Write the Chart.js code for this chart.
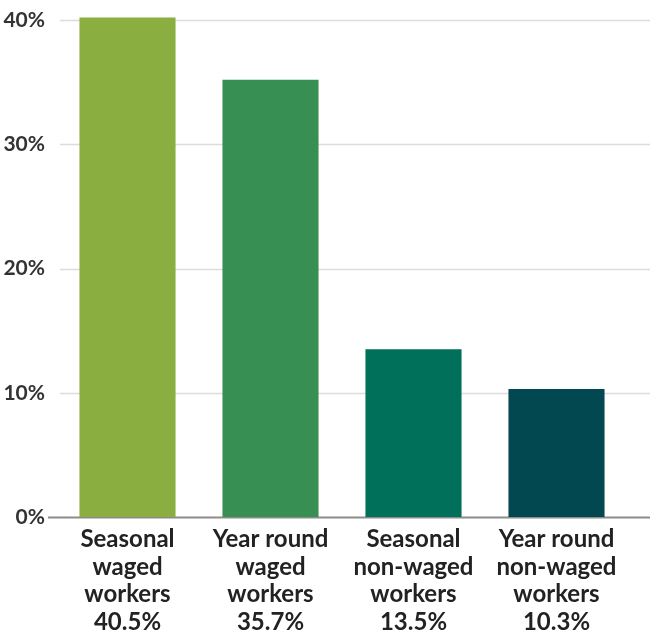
<!DOCTYPE html>
<html>
<head>
<meta charset="utf-8">
<script src="https://cdn.jsdelivr.net/npm/chart.js@4/dist/chart.umd.min.js"></script>
<style>
  html, body { margin: 0; padding: 0; background: #fff; }
  #wrap { width: 650px; height: 631px; }
</style>
</head>
<body>
<div id="wrap"><canvas id="workersChart"></canvas></div>
<script>
// Worker categories, printed shares and bar heights as drawn
const categories = [
  ['Seasonal', 'waged', 'workers'],
  ['Year round', 'waged', 'workers'],
  ['Seasonal', 'non-waged', 'workers'],
  ['Year round', 'non-waged', 'workers']
];
const shareLabels = ['40.5%', '35.7%', '13.5%', '10.3%'];
const barValues = [40.2, 35.2, 13.5, 10.3];
const barColors = ['#8aaf40', '#378f53', '#00705b', '#024850'];
const yTicks = [0, 10, 20, 30, 40];

// Gridlines run from just right of the labels to the canvas edge
const fullGrid = {
  id: 'fullGrid',
  beforeDatasetsDraw(chart) {
    const ctx = chart.ctx;
    const y = chart.scales.y;
    ctx.save();
    yTicks.forEach(function (v) {
      const py = Math.round(y.getPixelForValue(v)) + 0.5;
      ctx.beginPath();
      if (v === 0) {
        ctx.strokeStyle = '#8c8c8c';
        ctx.lineWidth = 2;
        ctx.moveTo(48, py);
      } else {
        ctx.strokeStyle = '#dcdcdc';
        ctx.lineWidth = 1.5;
        ctx.moveTo(60, py);
      }
      ctx.lineTo(chart.width, py);
      ctx.stroke();
    });
    ctx.restore();
  }
};

const ctx = document.getElementById('workersChart').getContext('2d');
new Chart(ctx, {
  type: 'bar',
  data: {
    labels: categories.map(function (c, i) { return c.concat([shareLabels[i]]); }),
    datasets: [{
      data: barValues,
      backgroundColor: barColors,
      borderWidth: 0,
      barPercentage: 0.672,
      categoryPercentage: 1,
      clip: false
    }]
  },
  options: {
    responsive: true,
    maintainAspectRatio: false,
    animation: false,
    layout: { padding: { top: 20, right: 22, left: 2, bottom: 0 } },
    plugins: {
      legend: { display: false },
      tooltip: { enabled: false }
    },
    scales: {
      x: {
        grid: { display: false },
        border: { display: false },
        ticks: {
          color: '#222',
          font: { family: 'Lato', size: 24, weight: 'bold', lineHeight: 1.146 },
          padding: 1,
          maxRotation: 0,
          autoSkip: false
        },
        afterFit: function (scale) { scale.height = 114; }
      },
      y: {
        min: 0,
        max: 40,
        afterBuildTicks: function (scale) {
          scale.ticks = yTicks.map(function (v) { return { value: v }; });
        },
        grid: { display: false },
        border: { display: false },
        ticks: {
          color: '#333',
          font: { family: 'Lato', size: 21, weight: 'bold' },
          padding: 3,
          callback: function (v) { return v + '%'; }
        },
        afterFit: function (scale) { scale.width = 54; }
      }
    }
  },
  plugins: [fullGrid]
});
</script>
</body>
</html>
